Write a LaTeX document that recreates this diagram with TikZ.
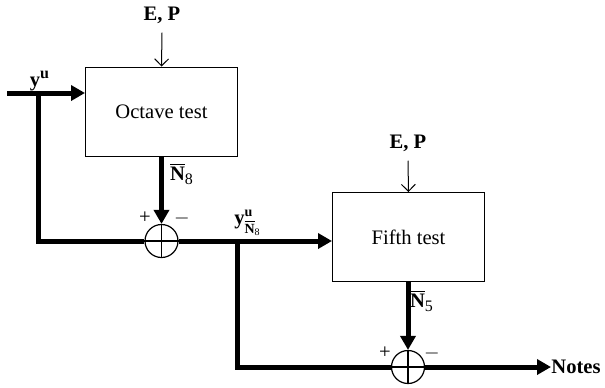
\documentclass[tikz,border=0pt]{standalone}
\usepackage{fontspec}
\setmainfont{Liberation Serif}
\usetikzlibrary{arrows.meta,calc}
\begin{document}
\begin{tikzpicture}[x=0.5pt,y=-0.5pt,
  font=\fontsize{10.3}{12}\selectfont,
  blockbox/.style={draw,line width=0.5pt,minimum width=76pt,minimum height=44.5pt,inner sep=0pt},
  sumnode/.style={draw,circle,line width=0.6pt,minimum size=16.5pt,inner sep=0pt},
  thickline/.style={line width=2.5pt},
  thickarrow/.style={line width=2.5pt,-{Triangle[length=7pt,width=7.5pt]}},
  thinarrow/.style={line width=0.5pt,-{Straight Barb[length=3.5pt,width=7pt]}},
  lbl/.style={inner sep=0pt}]
\useasboundingbox (0,0) rectangle (605,387);
% blocks
\node[blockbox] (b1) at (161.5,111.5) {Octave test};
\node[blockbox] (b2) at (408.5,237) {Fifth test};
\node[sumnode] (s1) at (161.5,241) {};
\node[sumnode] (s2) at (408,367) {};
\draw[line width=0.6pt] (s1.north) -- (s1.south) (s1.west) -- (s1.east);
\draw[line width=0.6pt] (s2.north) -- (s2.south) (s2.west) -- (s2.east);
% inputs E,P
\node[lbl] (ep1) at (162,15) {\textbf{E, P}};
\node[lbl] (ep2) at (408,143) {\textbf{E, P}};
\draw[thinarrow] ($(ep1.south)+(0,9)$) -- (b1.north);
\draw[thinarrow] ($(ep2.south)+(0,9)$) -- (b2.north);
% main input
\coordinate (in) at (7,93);
\coordinate (j1) at (38,93);
\draw[thickarrow] (in) -- (in -| b1.west);
\draw[thickline] (j1) -- (j1 |- s1) -- (s1.west);
\draw[thickarrow] (b1.south) -- (s1.north);
% second stage
\coordinate (j2) at (237,241);
\draw[thickarrow] (s1.east) -- (s1 -| b2.west);
\draw[thickline] (j2) -- (j2 |- s2) -- (s2.west);
\draw[thickarrow] (b2.south -| s2) -- (s2.north);
\node[lbl,anchor=west] (notes) at (551,367) {\textbf{Notes}};
\draw[thickarrow] (s2.east) -- (notes.west);
% labels
\node[lbl] (yu) at (40,81) {$\mbox{\bfseries y}^{\mbox{\footnotesize\bfseries u}}$};
\node[lbl] (n8) at (182,174) {$\overline{\mbox{\bfseries N}}_{\mbox{\footnotesize 8}}$};
\node[lbl] (n5) at (422,301) {$\overline{\mbox{\bfseries N}}_{\mbox{\footnotesize 5}}$};
\node[lbl] (yn8) at (248,223) {$\mbox{\bfseries y}^{\mbox{\scriptsize\bfseries u}}_{\overline{\mbox{\scriptsize\bfseries N}}_{\mbox{\tiny 8}}}$};
\node[lbl] (p1) at (145,218) {+};
\node[lbl] (m1) at (182,218) {$-$};
\node[lbl] (p2) at (385,353) {+};
\node[lbl] (m2) at (432,353) {$-$};
\end{tikzpicture}
\end{document}
